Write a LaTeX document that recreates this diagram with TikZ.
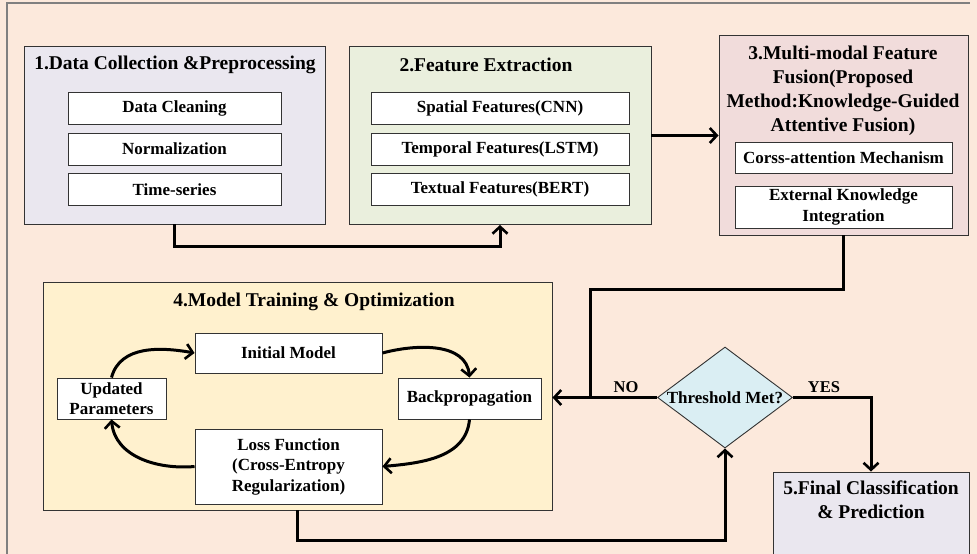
\documentclass[tikz,border=0pt]{standalone}
\usepackage{fontspec}
\setmainfont{Liberation Serif}
\usetikzlibrary{arrows.meta,shapes.geometric}
\definecolor{bgpeach}{HTML}{FCE9DC}
\definecolor{lav}{HTML}{EAE7EF}
\definecolor{grn}{HTML}{EAEFDD}
\definecolor{pnk}{HTML}{F1DCDB}
\definecolor{ylw}{HTML}{FFF1CE}
\definecolor{dia}{HTML}{DAEEF3}
\tikzset{
  bigbox/.style={draw=black!80, line width=0.9pt, rectangle, inner sep=0pt},
  inbox/.style={draw=black!80, line width=0.9pt, fill=white, rectangle, inner sep=0pt, align=center,
     font=\fontsize{17}{20.5}\selectfont\bfseries},
  ttl/.style={inner sep=0pt, align=center, font=\fontsize{19.5}{24}\selectfont\bfseries},
  lbl/.style={inner sep=0pt, font=\fontsize{16.5}{20}\selectfont\bfseries},
  conn/.style={line width=3pt, draw=black, line cap=butt},
  tip/.style={-{Straight Barb[length=7pt,width=15pt,line width=2.6pt]}},
}
\begin{document}
\begin{tikzpicture}[x=1pt,y=-1pt]
\useasboundingbox (0,0) rectangle (977,554);
\fill[bgpeach] (0,0) rectangle (977,554);
\draw[line width=2pt, draw=black!50] (7,554) -- (7,3) -- (970,3);

% Box 1
\node[bigbox, fill=lav, minimum width=301pt, minimum height=178pt] (b1) at (174.5,135) {};
\node[ttl] (t1) at (175,65) {1.Data Collection \&Preprocessing};
\node[inbox, minimum width=213pt, minimum height=32pt] (dc) at (174.5,108) {Data Cleaning};
\node[inbox, minimum width=213pt, minimum height=32pt] (nm) at (174.5,149) {Normalization};
\node[inbox, minimum width=213pt, minimum height=32pt] (ts) at (174.5,189.5) {Time-series};

% Box 2
\node[bigbox, fill=grn, minimum width=302pt, minimum height=178pt] (b2) at (500,135.5) {};
\node[ttl] (t2) at (486,65) {2.Feature Extraction};
\node[inbox, minimum width=258pt, minimum height=32pt] (sp) at (500,108) {Spatial Features(CNN)};
\node[inbox, minimum width=258pt, minimum height=32pt] (tp) at (500,149) {Temporal Features(LSTM)};
\node[inbox, minimum width=258pt, minimum height=32pt] (tx) at (500,189.5) {Textual Features(BERT)};

% Box 3
\node[bigbox, fill=pnk, minimum width=249pt, minimum height=200pt] (b3) at (843.5,135) {};
\node[ttl] (t3) at (843,91) {3.Multi-modal Feature\\Fusion(Proposed\\Method:Knowledge-Guided\\Attentive Fusion)};
\node[inbox, minimum width=217pt, minimum height=31pt] (ca) at (843.5,157.5) {Corss-attention Mechanism};
\node[inbox, minimum width=217pt, minimum height=42pt] (ek) at (843.5,207) {External Knowledge\\Integration};

% Box 4
\node[bigbox, fill=ylw, minimum width=509pt, minimum height=228pt] (b4) at (297.5,396) {};
\node[ttl] (t4) at (314,302) {4.Model Training \& Optimization};
\node[inbox, minimum width=187pt, minimum height=40pt] (init) at (288.5,353) {Initial Model};
\node[inbox, minimum width=109pt, minimum height=41pt] (upd) at (111.5,398.5) {Updated\\Parameters};
\node[inbox, minimum width=143pt, minimum height=41pt] (back) at (469.5,398.5) {Backpropagation};
\node[inbox, minimum width=187pt, minimum height=75pt] (loss) at (288.5,466.5) {Loss Function\\(Cross-Entropy\\Regularization)};

% Decision
\node[diamond, draw=black!80, line width=0.9pt, fill=dia, minimum width=135pt, minimum height=101pt, inner sep=0pt] (thr) at (725,397.5) {};
\node[inner sep=0pt, font=\fontsize{17}{20}\selectfont\bfseries] (thrt) at (725,397.5) {Threshold Met?};

% Box 5
\node[bigbox, fill=lav, minimum width=196pt, minimum height=100pt] (b5) at (871,522) {};
\node[ttl] (t5) at (871,500) {5.Final Classification\\\& Prediction};

% Labels
\node[lbl] (no) at (626,387) {NO};
\node[lbl] (yes) at (824,387) {YES};

% Connectors
\draw[conn, tip] (b1.south) -- ++(0,22) -| (b2.south);
\draw[conn, tip] (b2.east) -- (b2.east -| b3.west);
\coordinate (jt) at (590,289);
\coordinate (jn) at (590,397.5);
\draw[conn] (b3.south) |- (jt) -- (jn);
\draw[conn, tip] (thr.west) -- (thr.west -| b4.east);
\draw[conn, tip] (thr.east) -| (b5.north);
\draw[conn, tip] (b4.south) -- ++(0,30) -| (thr.south);

% Cycle
\draw[conn, tip] (upd.north) to[out=75,in=170] (init.west);
\draw[conn, tip] (init.east) to[out=15,in=95] (back.north);
\draw[conn, tip] (back.south) to[out=-95,in=5] (loss.east);
\draw[conn, tip] (loss.west) to[out=185,in=-85] (upd.south);
\end{tikzpicture}
\end{document}
